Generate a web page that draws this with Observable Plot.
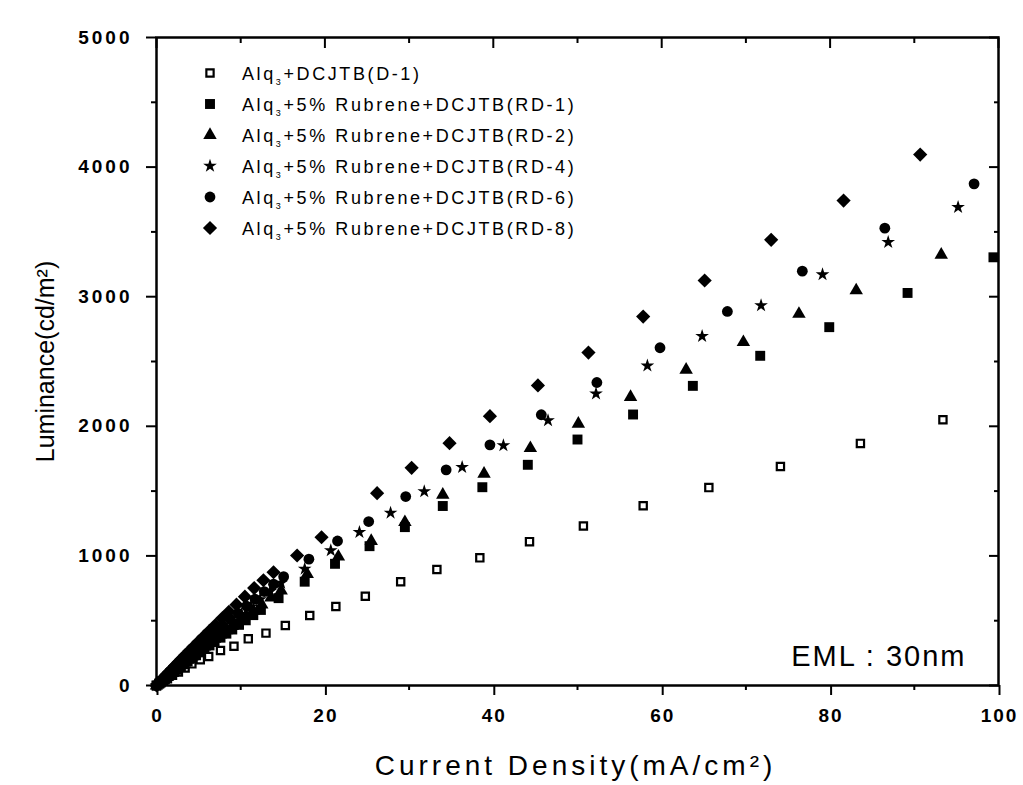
<!DOCTYPE html>
<html>
<head>
<meta charset="utf-8">
<script src="https://cdn.jsdelivr.net/npm/d3@7"></script>
<script src="https://cdn.jsdelivr.net/npm/@observablehq/plot@0.6"></script>
<style>
  html, body { margin: 0; padding: 0; background: #fff; }
  #chart { position: relative; width: 1023px; height: 785px; }
  #chart svg { display: block; }
</style>
</head>
<body>
<div id="chart"></div>
<script>
// ---- tick values ----
const xTicks = [0, 20, 40, 60, 80, 100];
const xMinorTicks = [10, 30, 50, 70, 90];
const yTicks = [0, 1000, 2000, 3000, 4000, 5000];
const yMinorTicks = [500, 1500, 2500, 3500, 4500];

// ---- texts ----
const xTitle = "Current Density(mA/cm²)";
const yTitle = "Luminance(cd/m²)";
const emlNote = "EML : 30nm";
const seriesNames = ["D-1", "RD-1", "RD-2", "RD-4", "RD-6", "RD-8"];
const legendSuffix = ["+DCJTB(D-1)", "+5% Rubrene+DCJTB(RD-1)", "+5% Rubrene+DCJTB(RD-2)",
                      "+5% Rubrene+DCJTB(RD-4)", "+5% Rubrene+DCJTB(RD-6)", "+5% Rubrene+DCJTB(RD-8)"];

// ---- series (current density mA/cm², luminance cd/m²) ----
const d1X = [0, 0.4, 0.8, 1.3, 1.9, 2.6, 3.4, 4.2, 5.2, 6.2, 7.6, 9.2, 10.9, 13.0, 15.3, 18.2, 21.3, 24.8, 29.0, 33.3, 38.4, 44.3, 50.7, 57.8, 65.6, 74.1, 83.6, 93.4];
const d1Y = [0, 15, 32, 52, 78, 105, 135, 167, 198, 224, 270, 303, 360, 404, 463, 540, 610, 689, 800, 895, 985, 1110, 1230, 1387, 1527, 1690, 1868, 2050];

const rd1X = [0, 0.3, 0.5, 0.7, 1.0, 1.2, 1.5, 1.8, 2.1, 2.5, 2.9, 3.3, 3.7, 4.2, 4.7, 5.2, 5.7, 6.3, 6.9, 7.6, 8.3, 9.0, 9.8, 10.6, 11.5, 12.4, 14.5, 17.6, 21.2, 25.3, 29.5, 34.0, 38.7, 44.1, 50.0, 56.6, 63.7, 71.7, 79.9, 89.2, 99.4];
const rd1Y = [0, 15, 25, 35, 50, 60, 75, 90, 105, 125, 145, 165, 185, 208, 233, 257, 282, 309, 339, 369, 400, 432, 468, 503, 543, 583, 674, 801, 939, 1075, 1222, 1385, 1530, 1703, 1898, 2091, 2312, 2544, 2765, 3029, 3304];

const rd2X = [0, 0.3, 0.5, 0.7, 1.0, 1.2, 1.5, 1.8, 2.1, 2.5, 2.9, 3.3, 3.7, 4.2, 4.7, 5.2, 5.7, 6.3, 6.9, 7.6, 8.3, 9.0, 9.8, 10.6, 11.5, 12.5, 13.6, 14.8, 17.9, 21.6, 25.5, 29.5, 34.0, 38.9, 44.4, 50.1, 56.3, 62.9, 69.7, 76.3, 83.1, 93.2];
const rd2Y = [0, 16, 27, 38, 54, 65, 81, 97, 113, 135, 156, 177, 198, 223, 249, 273, 300, 328, 359, 392, 425, 459, 496, 536, 578, 625, 678, 733, 859, 994, 1115, 1260, 1471, 1633, 1831, 2019, 2225, 2436, 2649, 2867, 3048, 3323];

const rd4X = [0, 0.4, 0.6, 0.9, 1.2, 1.6, 2.0, 2.5, 3.0, 3.6, 4.2, 4.9, 5.6, 6.4, 7.2, 8.1, 9.1, 10.1, 11.2, 12.3, 13.5, 14.8, 17.6, 20.7, 24.1, 27.8, 31.8, 36.3, 41.2, 46.5, 52.2, 58.3, 64.8, 71.8, 79.1, 86.9, 95.2];
const rd4Y = [0, 23, 35, 52, 70, 92, 115, 143, 171, 203, 237, 274, 313, 355, 399, 446, 498, 550, 607, 664, 727, 792, 900, 1042, 1183, 1332, 1497, 1684, 1852, 2045, 2251, 2467, 2695, 2932, 3171, 3421, 3691];

const rd6X = [0, 0.4, 0.6, 0.9, 1.2, 1.5, 1.9, 2.3, 2.7, 3.2, 3.7, 4.3, 4.9, 5.6, 6.3, 7.1, 7.9, 8.8, 9.7, 10.7, 11.7, 12.8, 13.9, 15.1, 18.1, 21.5, 25.2, 29.6, 34.4, 39.6, 45.7, 52.3, 59.8, 67.8, 76.7, 86.5, 97.1];
const rd6Y = [0, 24, 37, 54, 72, 90, 114, 138, 162, 191, 221, 255, 290, 329, 369, 413, 457, 508, 557, 612, 667, 725, 782, 840, 975, 1115, 1265, 1458, 1664, 1857, 2089, 2338, 2606, 2886, 3197, 3529, 3871];

const rd8X = [0, 0.4, 0.6, 0.9, 1.2, 1.5, 1.8, 2.2, 2.6, 3.0, 3.4, 3.9, 4.4, 5.0, 5.6, 6.3, 7.0, 7.8, 8.6, 9.5, 10.5, 11.6, 12.7, 13.9, 16.7, 19.6, 26.2, 30.3, 34.8, 39.6, 45.3, 51.3, 57.8, 65.1, 73.0, 81.6, 90.7];
const rd8Y = [0, 28, 42, 63, 84, 104, 125, 152, 179, 206, 233, 266, 299, 338, 377, 422, 466, 518, 569, 624, 685, 752, 812, 874, 1003, 1144, 1484, 1680, 1870, 2078, 2315, 2569, 2847, 3125, 3439, 3742, 4097];

// ---- build tables ----
const toRows = (xs, ys) => xs.map((x, i) => ({x, y: ys[i]}));
const seriesData = [
  toRows(d1X, d1Y),
  toRows(rd1X, rd1Y),
  toRows(rd2X, rd2Y),
  toRows(rd4X, rd4Y),
  toRows(rd6X, rd6Y),
  toRows(rd8X, rd8Y)
];

// marker styles (symbol, r, fill, stroke)
const markerStyle = [
  {symbol: "square", r: 4.1, fill: "white", stroke: "black", strokeWidth: 2.2},
  {symbol: "square", r: 5.6, fill: "black"},
  {symbol: "triangle", r: 5.0, fill: "black"},
  {symbol: "star", r: 4.3, fill: "black"},
  {symbol: "circle", r: 5.4, fill: "black"},
  {symbol: "diamond2", r: 6.4, fill: "black"}
];

const noText = () => "";
const chart = Plot.plot({
  width: 1023,
  height: 785,
  marginLeft: 156,
  marginRight: 25,
  marginTop: 37,
  marginBottom: 100,
  style: {fontFamily: "'Liberation Sans', Arial, sans-serif", background: "#fff", color: "#000", overflow: "visible"},
  x: {domain: [0, 100]},
  y: {domain: [0, 5000]},
  marks: [
    Plot.axisX({ticks: xTicks, tickSize: 10, tickPadding: 13, fontSize: 19, fontWeight: "bold", tickFormat: d => String(d), label: null, strokeWidth: 2, dx: 1}),
    Plot.axisX({ticks: xMinorTicks, tickSize: 5, tickFormat: noText, label: null, strokeWidth: 2}),
    Plot.axisX({anchor: "top", ticks: xTicks, tickSize: 10, dy: 10, tickFormat: noText, label: null, strokeWidth: 2}),
    Plot.axisX({anchor: "top", ticks: xMinorTicks, tickSize: 5, dy: 5, tickFormat: noText, label: null, strokeWidth: 2}),
    Plot.axisY({ticks: yTicks, tickSize: 10, tickPadding: 14, fontSize: 19, fontWeight: "bold", tickFormat: d => String(d), label: null, strokeWidth: 2}),
    Plot.axisY({ticks: yMinorTicks, tickSize: 5, tickFormat: noText, label: null, strokeWidth: 2}),
    Plot.axisY({anchor: "right", ticks: yTicks, tickSize: 10, dx: -10, tickFormat: noText, label: null, strokeWidth: 2}),
    Plot.axisY({anchor: "right", ticks: yMinorTicks, tickSize: 5, dx: -5, tickFormat: noText, label: null, strokeWidth: 2}),
    Plot.frame({stroke: "black", strokeWidth: 2.5}),
    ...seriesData.map((data, i) => Plot.dot(data, {x: "x", y: "y", ...markerStyle[i]})),
    Plot.text([xTitle], {text: d => d, frameAnchor: "bottom", dy: 89, dx: -2, fontSize: 28}),
    Plot.text([yTitle], {text: d => d, frameAnchor: "left", textAnchor: "middle", dx: -111, rotate: -90, fontSize: 25}),
    Plot.text([emlNote], {text: d => d, frameAnchor: "bottom-right", textAnchor: "end", dx: -32, dy: -20, fontSize: 29})
  ]
});

const host = document.getElementById("chart");
host.appendChild(chart);

// letter spacing to mimic the wide scanned lettering
const svg = d3.select(chart);
svg.selectAll('g[aria-label="y-axis tick label"] text').style("letter-spacing", "3px");
svg.selectAll('g[aria-label="x-axis tick label"] text').style("letter-spacing", "2px");
svg.selectAll("text").each(function () {
  const s = this.textContent;
  if (s === xTitle) this.style.letterSpacing = "4px";
  else if (s === emlNote) this.style.letterSpacing = "2px";
});

// ---- legend (inside plot area, top-left) ----
const symbolTypes = {square: d3.symbolSquare, triangle: d3.symbolTriangle, star: d3.symbolStar, circle: d3.symbolCircle, diamond2: d3.symbolDiamond2};
const leg = d3.select(host).append("svg")
  .attr("width", 1023).attr("height", 785)
  .style("position", "absolute").style("left", "0px").style("top", "0px")
  .style("pointer-events", "none")
  .style("font-family", "'Liberation Sans', Arial, sans-serif");
seriesNames.forEach((name, i) => {
  const cy = 73 + i * 31;
  const st = markerStyle[i];
  leg.append("path")
    .attr("transform", `translate(210,${cy})`)
    .attr("d", d3.symbol(symbolTypes[st.symbol], Math.PI * st.r * st.r)())
    .attr("fill", st.fill)
    .attr("stroke", st.stroke || "none")
    .attr("stroke-width", st.strokeWidth || 0);
  const t = leg.append("text")
    .attr("x", 242).attr("y", cy + 6.5)
    .attr("font-size", 18)
    .style("letter-spacing", "2.6px");
  t.append("tspan").text("Alq");
  t.append("tspan").attr("dy", 5).attr("font-size", 9).text("3");
  t.append("tspan").attr("dy", -5).text(legendSuffix[i]);
});
</script>
</body>
</html>
